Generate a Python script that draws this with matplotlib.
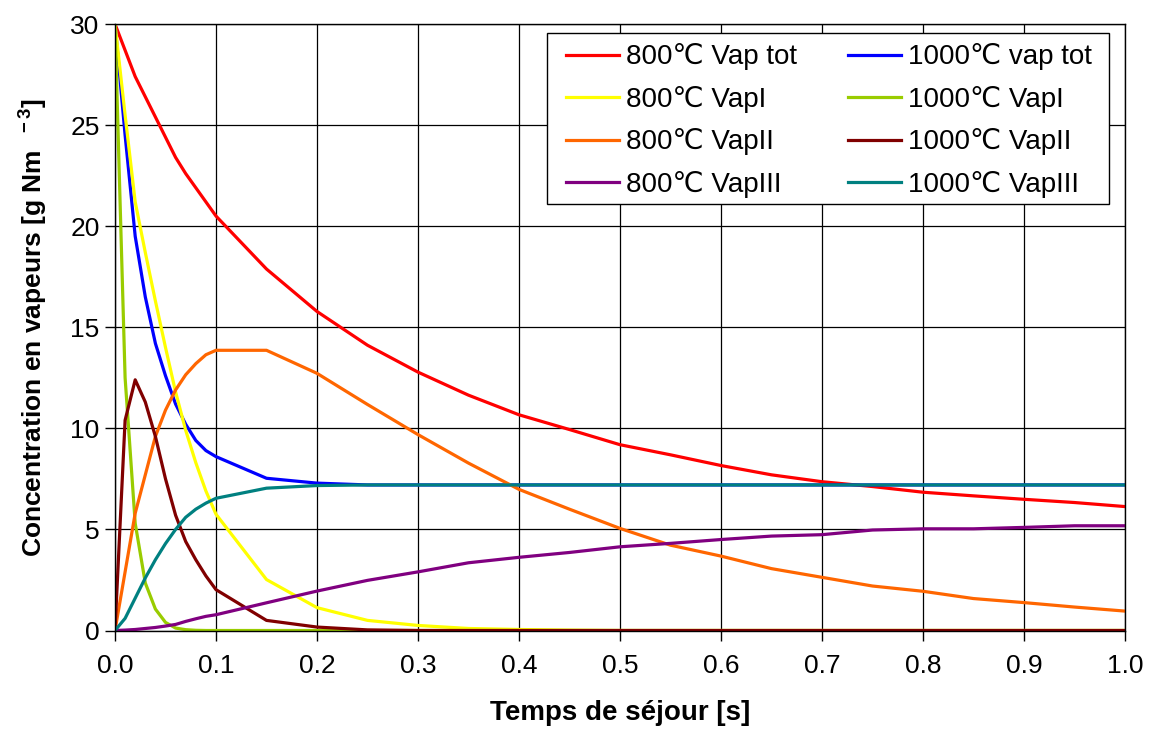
import matplotlib
matplotlib.use("Agg")
import matplotlib.pyplot as plt
from matplotlib.patches import Rectangle

plt.rcParams['font.family'] = ['Liberation Sans', 'DejaVu Sans']
plt.rcParams['mathtext.fontset'] = 'custom'
plt.rcParams['mathtext.bf'] = 'Liberation Sans:bold'
plt.rcParams['mathtext.rm'] = 'Liberation Sans:bold'
plt.rcParams['mathtext.default'] = 'bf'

t = [0, 0.01, 0.02, 0.03, 0.04, 0.05, 0.06, 0.07, 0.08, 0.09, 0.1,
     0.15, 0.2, 0.25, 0.3, 0.35, 0.4, 0.45, 0.5, 0.55, 0.6, 0.65, 0.7,
     0.75, 0.8, 0.85, 0.9, 0.95, 1.0]

vap_tot_800 = [30, 28.7, 27.4, 26.4, 25.4, 24.4, 23.4, 22.6, 21.9, 21.2, 20.5,
               17.88, 15.78, 14.11, 12.78, 11.64, 10.67, 9.94, 9.19, 8.69, 8.16,
               7.7, 7.36, 7.12, 6.84, 6.66, 6.49, 6.33, 6.13]
vap_tot_1000 = [30, 24.5, 19.5, 16.5, 14.2, 12.6, 11.2, 10.2, 9.4, 8.9, 8.6,
                7.53, 7.29, 7.2, 7.2, 7.2, 7.2, 7.2, 7.2, 7.2, 7.2,
                7.2, 7.2, 7.2, 7.2, 7.2, 7.2, 7.2, 7.2]
vapI_800 = [30, 25.5, 21.2, 18.7, 16.3, 14.0, 11.8, 9.9, 8.3, 6.9, 5.75,
            2.52, 1.13, 0.5, 0.25, 0.1, 0.05, 0.02, 0, 0, 0,
            0, 0, 0, 0, 0, 0, 0, 0]
vapI_1000 = [30, 12.5, 5.3, 2.35, 1.06, 0.4, 0.12, 0.04, 0.01, 0, 0,
             0, 0, 0, 0, 0, 0, 0, 0, 0, 0,
             0, 0, 0, 0, 0, 0, 0, 0]
vapII_800 = [0, 2.9, 5.8, 7.7, 9.6, 10.9, 11.9, 12.65, 13.2, 13.64, 13.86,
             13.86, 12.72, 11.18, 9.69, 8.28, 6.98, 6.0, 5.05, 4.22, 3.68,
             3.06, 2.63, 2.2, 1.94, 1.58, 1.38, 1.16, 0.96]
vapII_1000 = [0, 10.4, 12.4, 11.3, 9.6, 7.5, 5.7, 4.4, 3.5, 2.7, 2.02,
              0.5, 0.17, 0.03, 0, 0, 0, 0, 0, 0, 0,
              0, 0, 0, 0, 0, 0, 0, 0]
vapIII_800 = [0, 0.02, 0.05, 0.1, 0.15, 0.22, 0.3, 0.45, 0.58, 0.7, 0.78,
              1.37, 1.95, 2.48, 2.9, 3.35, 3.62, 3.86, 4.14, 4.31, 4.5,
              4.67, 4.74, 4.97, 5.03, 5.03, 5.1, 5.18, 5.18]
vapIII_1000 = [0, 0.6, 1.6, 2.6, 3.5, 4.3, 5.0, 5.6, 6.0, 6.3, 6.54,
               7.04, 7.17, 7.2, 7.2, 7.2, 7.2, 7.2, 7.2, 7.2, 7.2,
               7.2, 7.2, 7.2, 7.2, 7.2, 7.2, 7.2, 7.2]

x_ticks = [0.0, 0.1, 0.2, 0.3, 0.4, 0.5, 0.6, 0.7, 0.8, 0.9, 1.0]
y_ticks = [0, 5, 10, 15, 20, 25, 30]

series = [
    ("800\u2103 Vap tot", vap_tot_800, "#FF0000"),
    ("1000\u2103 vap tot", vap_tot_1000, "#0000FF"),
    ("800\u2103 VapI", vapI_800, "#FFFF00"),
    ("1000\u2103 VapI", vapI_1000, "#99CC00"),
    ("800\u2103 VapII", vapII_800, "#FF6600"),
    ("1000\u2103 VapII", vapII_1000, "#800000"),
    ("800\u2103 VapIII", vapIII_800, "#800080"),
    ("1000\u2103 VapIII", vapIII_1000, "#008080"),
]

fig = plt.figure(figsize=(11.51, 7.31), dpi=100)
ax = fig.add_axes([115/1151, 1-630.5/731, 1010/1151, 606.5/731])

handles = {}
for label, vals, col in series:
    ln, = ax.plot(t, vals, color=col, lw=2.3, label=label)
    handles[label] = ln

ax.set_xlim(0, 1.0)
ax.set_ylim(0, 30)
ax.set_xticks(x_ticks)
ax.set_xticklabels([f"{v:.1f}" for v in x_ticks])
ax.set_yticks(y_ticks)
ax.grid(True, color='black', lw=0.9)
ax.set_axisbelow(True)
for sp in ax.spines.values():
    sp.set_color('black')
    sp.set_linewidth(1.0)
ax.tick_params(direction='out', length=7, width=1, labelsize=19)
ax.tick_params(axis='x', pad=10)
ax.tick_params(axis='y', pad=4)

ax.set_xlabel("Temps de s\u00e9jour [s]", fontsize=20, fontweight='bold', labelpad=16)
ax.set_ylabel("Concentration en vapeurs [g Nm $^{\\ -3}$]", fontsize=19,
              fontweight='bold', labelpad=15)

# legend frame
frame = Rectangle((0.4277, 0.7032), 0.5564, 0.2824, transform=ax.transAxes,
                  facecolor='white', edgecolor='black', lw=1.0, zorder=4.9,
                  clip_on=False)
ax.add_patch(frame)

order = [s[0] for s in series[0::2]] + [s[0] for s in series[1::2]]
leg = ax.legend([handles[k] for k in order], order, ncol=2,
                loc='upper left', bbox_to_anchor=(0.4465, 0.9679),
                fontsize=20, frameon=False, handlelength=1.9,
                handletextpad=0.25, labelspacing=0.555, borderpad=0,
                columnspacing=1.85, borderaxespad=0)
leg.set_zorder(5)

fig.savefig("out.png", dpi=100)
